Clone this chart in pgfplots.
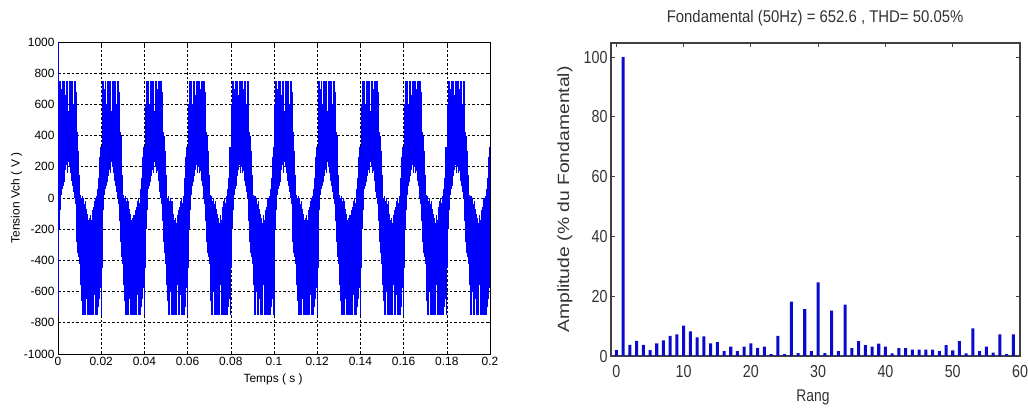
\documentclass[border=0pt]{standalone}
\usepackage{fontspec}
\setmainfont{Liberation Sans}
\newfontfamily\narrowsans[FakeStretch=0.82]{Liberation Sans}
\newfontfamily\titlesans[FakeStretch=0.88]{Liberation Sans}
\newfontfamily\widesans[FakeStretch=1.19]{Liberation Sans}
\usepackage{pgfplots}
\pgfplotsset{compat=1.18}
\usepackage{pgfplotstable}

\definecolor{vblue}{RGB}{0,0,255}
\definecolor{bblue}{RGB}{10,10,205}

% one period (20 ms) of Vch: vertical switching strokes, low then high, nan ends a stroke
\pgfplotstableread[row sep=\\]{
t v\\
0.0000 -750\\ 0.0000 330\\ 0.0000 nan\\
0.0004 -450\\ 0.0004 600\\ 0.0004 nan\\
0.0008 -200\\ 0.0008 750\\ 0.0008 nan\\
0.0012 -80\\ 0.0012 750\\ 0.0012 nan\\
0.0016 20\\ 0.0016 700\\ 0.0016 nan\\
0.0020 60\\ 0.0020 750\\ 0.0020 nan\\
0.0024 80\\ 0.0024 600\\ 0.0024 nan\\
0.0028 100\\ 0.0028 750\\ 0.0028 nan\\
0.0032 140\\ 0.0032 750\\ 0.0032 nan\\
0.0036 180\\ 0.0036 660\\ 0.0036 nan\\
0.0040 210\\ 0.0040 750\\ 0.0040 nan\\
0.0044 160\\ 0.0044 750\\ 0.0044 nan\\
0.0048 230\\ 0.0048 560\\ 0.0048 nan\\
0.0052 200\\ 0.0052 750\\ 0.0052 nan\\
0.0056 160\\ 0.0056 750\\ 0.0056 nan\\
0.0060 170\\ 0.0060 700\\ 0.0060 nan\\
0.0064 110\\ 0.0064 750\\ 0.0064 nan\\
0.0068 80\\ 0.0068 750\\ 0.0068 nan\\
0.0072 40\\ 0.0072 600\\ 0.0072 nan\\
0.0076 0\\ 0.0076 750\\ 0.0076 nan\\
0.0080 -40\\ 0.0080 750\\ 0.0080 nan\\
0.0084 -150\\ 0.0084 680\\ 0.0084 nan\\
0.0088 -280\\ 0.0088 420\\ 0.0088 nan\\
0.0092 -350\\ 0.0092 400\\ 0.0092 nan\\
0.0096 -380\\ 0.0096 300\\ 0.0096 nan\\
0.0100 -420\\ 0.0100 150\\ 0.0100 nan\\
0.0104 -560\\ 0.0104 20\\ 0.0104 nan\\
0.0108 -660\\ 0.0108 0\\ 0.0108 nan\\
0.0112 -750\\ 0.0112 10\\ 0.0112 nan\\
0.0116 -750\\ 0.0116 -20\\ 0.0116 nan\\
0.0120 -600\\ 0.0120 0\\ 0.0120 nan\\
0.0124 -750\\ 0.0124 -40\\ 0.0124 nan\\
0.0128 -750\\ 0.0128 -20\\ 0.0128 nan\\
0.0132 -650\\ 0.0132 -70\\ 0.0132 nan\\
0.0136 -750\\ 0.0136 -100\\ 0.0136 nan\\
0.0140 -750\\ 0.0140 -140\\ 0.0140 nan\\
0.0144 -750\\ 0.0144 -130\\ 0.0144 nan\\
0.0148 -750\\ 0.0148 -160\\ 0.0148 nan\\
0.0152 -560\\ 0.0152 -110\\ 0.0152 nan\\
0.0156 -750\\ 0.0156 -140\\ 0.0156 nan\\
0.0160 -750\\ 0.0160 -80\\ 0.0160 nan\\
0.0164 -750\\ 0.0164 -60\\ 0.0164 nan\\
0.0168 -620\\ 0.0168 -20\\ 0.0168 nan\\
0.0172 -750\\ 0.0172 0\\ 0.0172 nan\\
0.0176 -750\\ 0.0176 -30\\ 0.0176 nan\\
0.0180 -750\\ 0.0180 10\\ 0.0180 nan\\
0.0184 -750\\ 0.0184 60\\ 0.0184 nan\\
0.0188 -700\\ 0.0188 130\\ 0.0188 nan\\
0.0192 -650\\ 0.0192 260\\ 0.0192 nan\\
0.0196 -580\\ 0.0196 330\\ 0.0196 nan\\
}\vper

% harmonic spectrum, % of fundamental
\pgfplotstableread{
n a
0 2.0
1 100
2 3.7
3 5.1
4 3.7
5 2.0
6 4.2
7 5.2
8 6.7
9 7.2
10 10.2
11 8.2
12 6.2
13 6.6
14 4.2
15 4.6
16 1.6
17 3.1
18 1.6
19 3.1
20 4.2
21 2.7
22 3.1
23 0.6
24 6.7
25 0.6
26 18.2
27 1.0
28 15.7
29 1.6
30 24.6
31 1.0
32 15.2
33 1.6
34 17.2
35 2.6
36 5.0
37 3.6
38 3.1
39 4.1
40 3.1
41 0.9
42 2.6
43 2.6
44 2.1
45 2.1
46 2.1
47 2.1
48 1.6
49 3.6
50 1.9
51 5.0
52 0.9
53 9.2
54 1.6
55 3.1
56 1.1
57 7.2
58 0.6
59 7.2
}\spec

\begin{document}
\begin{tikzpicture}
\path[use as bounding box] (0,0) rectangle (1028bp,411bp);

% left: load voltage
\begin{axis}[
at={(58bp,57bp)}, anchor=south west,
scale only axis, width=432bp, height=312bp,
xmin=0, xmax=0.2, ymin=-1000, ymax=1000,
xtick={0,0.02,0.04,0.06,0.08,0.1,0.12,0.14,0.16,0.18,0.2},
xticklabels={0,0.02,0.04,0.06,0.08,0.1,0.12,0.14,0.16,0.18,0.2},
ytick={-1000,-800,-600,-400,-200,0,200,400,600,800,1000},
yticklabels={-1000,-800,-600,-400,-200,0,200,400,600,800,1000},
grid=major,
major grid style={black, line width=0.6bp, dash pattern=on 2.5bp off 2bp},
tick align=inside, major tick length=3bp,
tick style={black, line width=0.6bp},
axis line style={black, line width=0.6bp},
ticklabel style={font=\fontsize{12}{14}\selectfont},
xlabel={Temps ( s )}, ylabel={Tension Vch ( V )},
every axis x label/.style={at={(axis description cs:0.498,-0.083)}, anchor=center, font=\fontsize{12}{14}\selectfont},
every axis y label/.style={at={(axis description cs:-0.096,0.5)}, anchor=center, rotate=90, font=\fontsize{12}{14}\selectfont},
]
\addplot[draw=vblue, line width=1.1bp] coordinates {(0,-520) (0,1000)};
\pgfplotsinvokeforeach{0,...,9}{
\addplot[draw=vblue, line width=1.1bp, unbounded coords=jump] table[x expr=\thisrow{t}+#1*0.02, y=v] {\vper};
}
\end{axis}

% right: spectrum
\begin{axis}[
at={(611bp,55bp)}, anchor=south west,
scale only axis, width=409bp, height=313bp,
xmin=-0.8, xmax=60, ymin=0, ymax=104.7,
xtick={0,10,...,60}, ytick={0,20,...,100},
/pgf/number format/assume math mode=true,
tick align=inside, major tick length=4bp,
tick style={black!75, line width=1bp},
axis line style={black!75, line width=1.2bp},
ticklabel style={font=\narrowsans\fontsize{17.5}{20}\selectfont, text=black!80},
xticklabel style={yshift=-6bp},
title={Fondamental (50Hz) = 652.6 , THD= 50.05\%},
every axis title/.style={at={(axis description cs:0.499,1.08)}, anchor=center, font=\titlesans\fontsize{17}{20}\selectfont, text=black!80},
xlabel={Rang},
every axis x label/.style={at={(axis description cs:0.494,-0.131)}, anchor=center, font=\narrowsans\fontsize{17}{20}\selectfont, text=black!80},
ylabel={Amplitude (\% du Fondamental)},
every axis y label/.style={at={(axis description cs:-0.1125,0.5)}, anchor=center, rotate=90, font=\widesans\fontsize{16.3}{19}\selectfont, text=black!80},
]
\addplot[ybar, bar width=0.45, fill=bblue, draw=none] table[x=n, y=a] {\spec};
\end{axis}
\end{tikzpicture}
\end{document}
